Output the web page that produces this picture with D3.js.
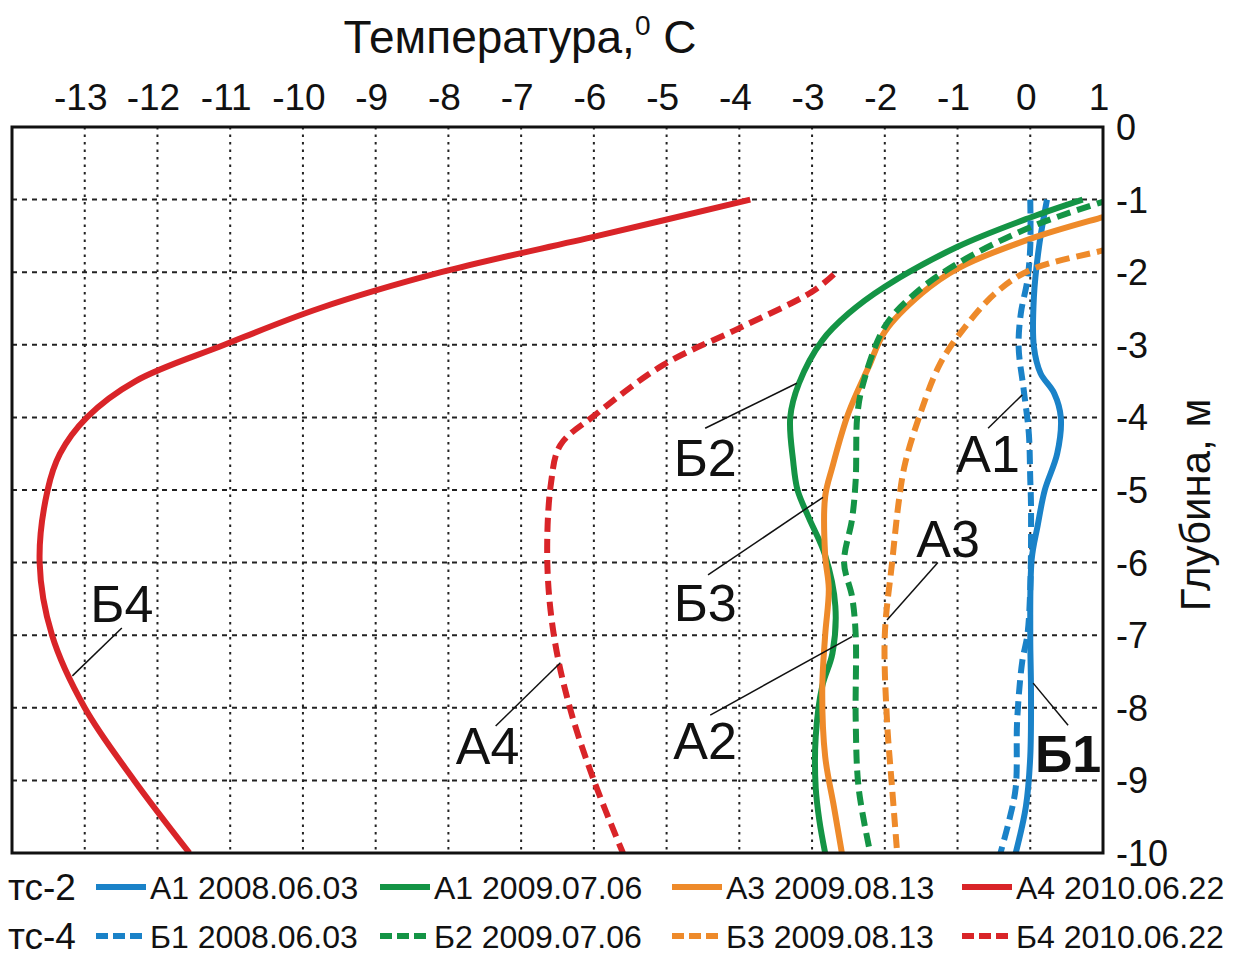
<!DOCTYPE html>
<meta charset="utf-8">
<script src="https://d3js.org/d3.v7.min.js"></script>
<style>
  body { margin: 0; background: #fff; }
  text { font-family: "Liberation Sans", Arial, sans-serif; fill: #111; }
</style>
<div id="chart"></div>
<script>

    // temperature ticks on the top axis, depth ticks on the right
    var tempTicks = [-13, -12, -11, -10, -9, -8, -7, -6, -5, -4, -3, -2, -1, 0, 1];
    var depthTicks = [0, -1, -2, -3, -4, -5, -6, -7, -8, -9, -10];

    // profiles: [temperature, depth]
    var a1_2008 = [[0.23,-1],[0.12,-1.65],[0.05,-2.34],[0.05,-3.03],[0.14,-3.39],[0.33,-3.67],[0.42,-4],[0.37,-4.5],[0.2,-5],[0.1,-5.5],[0.02,-5.95],[0,-7],[0.01,-7.75],[0,-8.67],[-0.06,-9.36],[-0.2,-10]];
    var b1_2008 = [[0,-1],[0,-1.65],[-0.04,-2.11],[-0.13,-2.57],[-0.16,-3.03],[-0.09,-3.62],[-0.02,-4.22],[0,-4.86],[0.01,-5.2],[0,-6.35],[-0.04,-7],[-0.11,-7.36],[-0.18,-8.17],[-0.2,-9.1],[-0.29,-9.55],[-0.41,-10]];
    var a1_2009 = [[0.72,-1],[0.02,-1.24],[-1,-1.65],[-2,-2.2],[-2.5,-2.57],[-2.86,-2.94],[-3.18,-3.53],[-3.3,-4],[-3.26,-4.6],[-3.2,-5],[-3.05,-5.37],[-2.82,-5.9],[-2.68,-6.6],[-2.72,-7.25],[-2.86,-7.7],[-2.95,-8.4],[-2.95,-9.1],[-2.9,-9.55],[-2.82,-10]];
    var b2_2009 = [[1.1,-1.0],[1.0,-1.03],[0,-1.38],[-1,-1.88],[-1.58,-2.29],[-2,-2.75],[-2.31,-3.58],[-2.38,-4],[-2.4,-4.86],[-2.45,-5.4],[-2.56,-6.0],[-2.45,-6.47],[-2.4,-7],[-2.4,-8.17],[-2.36,-9.1],[-2.2,-10]];
    var a3_2009 = [[1.1,-1.21],[1.0,-1.24],[0,-1.54],[-1,-1.95],[-1.49,-2.29],[-2,-2.82],[-2.22,-3.3],[-2.5,-3.94],[-2.72,-4.68],[-2.82,-5.09],[-2.82,-5.9],[-2.77,-6.36],[-2.82,-7],[-2.86,-7.75],[-2.82,-8.67],[-2.7,-9.36],[-2.59,-10]];
    var b3_2009 = [[1.1,-1.67],[1.0,-1.7],[0,-1.97],[-0.48,-2.29],[-1,-2.89],[-1.26,-3.3],[-1.53,-4],[-1.72,-4.63],[-1.8,-5.1],[-1.9,-6],[-2.0,-7],[-1.97,-8.17],[-1.9,-9.1],[-1.83,-10]];
    var a4_2010 = [[-3.85,-1],[-5.95,-1.5],[-8.1,-2],[-9.78,-2.5],[-11.08,-3],[-12.3,-3.5],[-12.97,-4],[-13.34,-4.5],[-13.51,-5],[-13.62,-6],[-13.45,-7],[-13.0,-8],[-12.32,-9],[-11.56,-10]];
    var b4_2010 = [[-2.7,-2.03],[-3.0,-2.27],[-4,-2.77],[-5.05,-3.28],[-6,-3.98],[-6.46,-4.38],[-6.59,-4.91],[-6.64,-6],[-6.55,-7],[-6.33,-8],[-6,-9],[-5.6,-10]];

    var series = [
        {name: "A1 2008.06.03", data: a1_2008, color: "#1a82c8", dashed: false},
        {name: "A1 2009.07.06", data: a1_2009, color: "#149445", dashed: false},
        {name: "A3 2009.08.13", data: a3_2009, color: "#ee8a2a", dashed: false},
        {name: "A4 2010.06.22", data: a4_2010, color: "#d92428", dashed: false},
        {name: "Б1 2008.06.03", data: b1_2008, color: "#1a82c8", dashed: true},
        {name: "Б2 2009.07.06", data: b2_2009, color: "#149445", dashed: true},
        {name: "Б3 2009.08.13", data: b3_2009, color: "#ee8a2a", dashed: true},
        {name: "Б4 2010.06.22", data: b4_2010, color: "#d92428", dashed: true}
    ];

    // callout labels: text, label centre, leader from -> to (temperature, depth)
    var callouts = [
        {text: "Б4", at: [-12.49, -6.56], from: [-12.49, -6.9], to: [-13.17, -7.56], bold: false},
        {text: "A4", at: [-7.46, -8.51], from: [-7.35, -8.25], to: [-6.46, -7.38], bold: false},
        {text: "Б2", at: [-4.47, -4.55], from: [-4.47, -4.15], to: [-3.21, -3.53], bold: false},
        {text: "Б3", at: [-4.47, -6.54], from: [-4.43, -6.17], to: [-2.85, -5.1], bold: false},
        {text: "A2", at: [-4.47, -8.44], from: [-4.4, -8.1], to: [-2.45, -7.02], bold: false},
        {text: "A3", at: [-1.13, -5.66], from: [-1.27, -6.0], to: [-1.97, -6.79], bold: false},
        {text: "A1", at: [-0.58, -4.49], from: [-0.58, -4.15], to: [-0.11, -3.69], bold: false},
        {text: "Б1", at: [0.52, -8.62], from: [0.52, -8.24], to: [0.04, -7.66], bold: true}
    ];

    var W = 1239, H = 955;
    var pLeft = 12, pRight = 1103, pTop = 127, pBottom = 853;

    var svg = d3.select("#chart")
        .append("svg")
            .attr("width", W)
            .attr("height", H);

    var x = d3.scaleLinear().domain([-14, 1]).range([pLeft, pRight]);
    var y = d3.scaleLinear().domain([0, -10]).range([pTop, pBottom]);

    svg.append("defs").append("clipPath")
        .attr("id", "plotclip")
      .append("rect")
        .attr("x", pLeft).attr("y", pTop)
        .attr("width", pRight - pLeft).attr("height", pBottom - pTop);

    // grid
    svg.append("g")
        .selectAll("line")
        .data(d3.range(-13, 1))
        .enter().append("line")
        .attr("x1", d => x(d)).attr("x2", d => x(d))
        .attr("y1", pTop).attr("y2", pBottom)
        .attr("stroke", "#222")
        .attr("stroke-width", 2)
        .attr("stroke-dasharray", "2.5,5");

    svg.append("g")
        .selectAll("line")
        .data(d3.range(-1, -10, -1))
        .enter().append("line")
        .attr("x1", pLeft).attr("x2", pRight)
        .attr("y1", d => y(d)).attr("y2", d => y(d))
        .attr("stroke", "#222")
        .attr("stroke-width", 2)
        .attr("stroke-dasharray", "5,5");

    // curves
    var line = d3.line()
        .x(d => x(d[0]))
        .y(d => y(d[1]))
        .curve(d3.curveCatmullRom.alpha(0.5));

    svg.append("g")
        .attr("clip-path", "url(#plotclip)")
        .selectAll("path")
        .data(series)
        .enter().append("path")
        .attr("d", d => line(d.data))
        .attr("fill", "none")
        .attr("stroke", d => d.color)
        .attr("stroke-width", 6)
        .attr("stroke-dasharray", d => d.dashed ? "14,7" : null);

    // frame
    svg.append("rect")
        .attr("x", pLeft).attr("y", pTop)
        .attr("width", pRight - pLeft).attr("height", pBottom - pTop)
        .attr("fill", "none")
        .attr("stroke", "#111")
        .attr("stroke-width", 3);

    // top axis labels
    svg.append("g")
        .selectAll("text")
        .data(tempTicks)
        .enter().append("text")
        .attr("x", d => x(d) - 4)
        .attr("y", 110)
        .attr("text-anchor", "middle")
        .attr("font-size", 37)
        .text(d => d);

    // right axis labels
    svg.append("g")
        .selectAll("text")
        .data(depthTicks)
        .enter().append("text")
        .attr("x", 1116)
        .attr("y", d => y(d) + 13)
        .attr("font-size", 36)
        .text(d => d);

    // title
    var title = svg.append("text")
        .attr("x", 520)
        .attr("y", 53)
        .attr("text-anchor", "middle")
        .attr("font-size", 46);
    title.append("tspan").text("Температура,");
    title.append("tspan").attr("font-size", 28).attr("dy", -18).text("0");
    title.append("tspan").attr("dy", 18).text(" C");

    svg.append("text")
        .attr("transform", "translate(1210,505) rotate(-90)")
        .attr("text-anchor", "middle")
        .attr("font-size", 42)
        .text("Глубина, м");

    // callouts
    var cg = svg.append("g");
    cg.selectAll("line")
        .data(callouts)
        .enter().append("line")
        .attr("x1", d => x(d.from[0])).attr("y1", d => y(d.from[1]))
        .attr("x2", d => x(d.to[0])).attr("y2", d => y(d.to[1]))
        .attr("stroke", "#111")
        .attr("stroke-width", 1.5);
    cg.selectAll("text")
        .data(callouts)
        .enter().append("text")
        .attr("x", d => x(d.at[0]))
        .attr("y", d => y(d.at[1]) + 19)
        .attr("text-anchor", "middle")
        .attr("font-size", 52)
        .attr("font-weight", d => d.bold ? "bold" : null)
        .text(d => d.text);

    // legend
    var rows = [{label: "тс-2", y: 887, items: series.slice(0, 4)},
                {label: "тс-4", y: 936, items: series.slice(4)}];
    var itemX = [96, 380, 672, 962];

    rows.forEach(function (r) {
        svg.append("text")
            .attr("x", 8)
            .attr("y", r.y + 13)
            .attr("font-size", 37)
            .text(r.label);
        r.items.forEach(function (s, i) {
            svg.append("line")
                .attr("x1", itemX[i]).attr("x2", itemX[i] + 50)
                .attr("y1", r.y).attr("y2", r.y)
                .attr("stroke", s.color)
                .attr("stroke-width", 6)
                .attr("stroke-dasharray", s.dashed ? "12,5" : null);
            svg.append("text")
                .attr("x", itemX[i] + 54)
                .attr("y", r.y + 12)
                .attr("font-size", 32)
                .text(s.name);
        });
    });

</script>
